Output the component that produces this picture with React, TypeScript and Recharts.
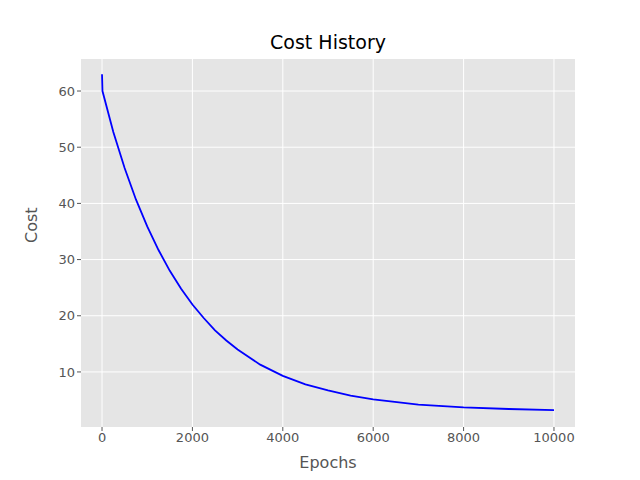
import { CartesianGrid, Line, LineChart, XAxis, YAxis } from "recharts";

const epochs = [0, 10, 250, 500, 750, 1000, 1250, 1500, 1750, 2000, 2250, 2500, 2750, 3000, 3500, 4000, 4500, 5000, 5500, 6000, 7000, 8000, 9000, 10000];
const costs = [63, 60, 52.7, 46.3, 40.7, 35.9, 31.7, 28.0, 24.8, 22.0, 19.6, 17.4, 15.6, 14.0, 11.3, 9.3, 7.8, 6.7, 5.8, 5.1, 4.2, 3.7, 3.4, 3.2];
const xTicks = [0, 2000, 4000, 6000, 8000, 10000];
const yTicks = [10, 20, 30, 40, 50, 60];

const data = epochs.map((e, i) => ({ epoch: e, cost: costs[i] }));

const font = "DejaVu Sans, sans-serif";
const tick = { fontSize: 13, fill: "#555", fontFamily: font };

export default function App() {
  return (
    <div style={{ position: "relative", width: 640, height: 480, margin: -8, background: "#fff", fontFamily: font }}>
      <div style={{ position: "absolute", top: 31, left: 81, width: 494, textAlign: "center", fontSize: 19, color: "#000" }}>
        Cost History
      </div>
      <LineChart width={640} height={480} data={data} margin={{ top: 59, right: 65, bottom: 0, left: 21 }}>
        <CartesianGrid fill="#E5E5E5" stroke="#fff" strokeWidth={1} horizontalValues={yTicks} verticalValues={xTicks} />
        <XAxis
          type="number"
          dataKey="epoch"
          domain={[-465, 10465]}
          ticks={xTicks}
          allowDataOverflow
          axisLine={false}
          tickLine={{ stroke: "#555" }}
          tickSize={4}
          tick={tick}
          height={53}
          label={{ value: "Epochs", position: "insideBottom", offset: 12, fontSize: 16, fill: "#555", fontFamily: font }}
        />
        <YAxis
          type="number"
          domain={[0.2, 65.7]}
          ticks={yTicks}
          allowDataOverflow
          axisLine={false}
          tickLine={{ stroke: "#555" }}
          tickSize={4}
          tick={tick}
          width={60}
          label={{ value: "Cost", angle: -90, position: "insideLeft", offset: 10, fontSize: 16, fill: "#555", fontFamily: font }}
        />
        <Line type="linear" dataKey="cost" stroke="#0000FF" strokeWidth={1.8} dot={false} isAnimationActive={false} />
      </LineChart>
    </div>
  );
}
